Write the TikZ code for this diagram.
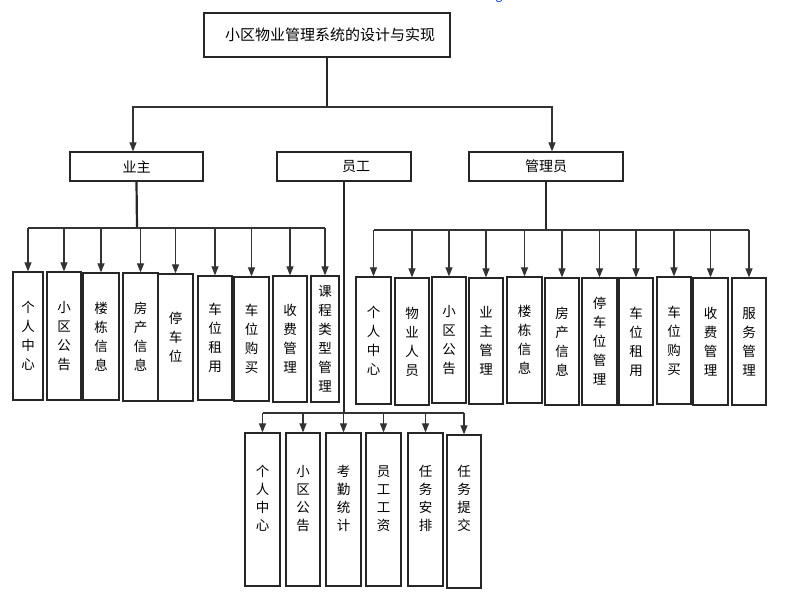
\documentclass[tikz,border=0pt]{standalone}
\usepackage{fontspec}
\setmainfont{Noto Sans CJK SC}
\usetikzlibrary{arrows.meta}
\begin{document}
\begin{tikzpicture}[x=1pt,y=-1pt,
  box/.style={draw=black!85, line width=1.2pt, inner sep=0pt, align=center,
    font=\fontsize{13.5}{19}\selectfont},
  hbox/.style={draw=black!85, line width=1.2pt, inner sep=0pt, minimum height=29pt,
    font=\fontsize{14}{16}\selectfont},
  vtext/.style={align=center, inner sep=0pt, font=\fontsize{13.5}{18}\selectfont},
  link/.style={draw=black!80, line width=1.1pt},
  arr/.style={link, -{Triangle[length=9pt,width=7pt]}},
  stem/.style={draw=black!85, line width=2.2pt}]
\useasboundingbox (0,0) rectangle (785,592);
\node[text=blue!80!cyan, font=\fontsize{12}{12}\selectfont, anchor=base] (g) at (499,-1) {g};
% top
\node[draw=black!85, line width=1.2pt, minimum width=246pt, minimum height=44pt,
      font=\fontsize{15}{17}\selectfont] (top) at (327,35) {\hspace{6pt}小区物业管理系统的设计与实现};
\node[hbox, minimum width=133pt] (yz) at (136.5,166.5) {业主};
\node[hbox, minimum width=134pt] (yg) at (344,166.5) {\hspace{24pt}员工};
\node[hbox, minimum width=154pt] (gl) at (546,166.5) {管理员};
\coordinate (j0) at (327,107);
\draw[stem, line width=1.4pt] (top.south) -- (j0);
\draw[arr] (j0) -| ([xshift=-3.5pt]yz.north);
\draw[arr] (j0) -| ([xshift=6pt]gl.north);
% left group
\node[box, minimum width=30pt, minimum height=128pt] (l1) at (28,336) {个\\人\\中\\心};
\node[box, minimum width=34pt, minimum height=128pt] (l2) at (64,336) {小\\区\\公\\告};
\node[box, minimum width=36pt, minimum height=127pt] (l3) at (101,336.5) {楼\\栋\\信\\息};
\node[box, minimum width=35pt, minimum height=128pt] (l4) at (140.5,337) {房\\产\\信\\息};
\node[box, minimum width=35pt, minimum height=127pt] (l5) at (175.5,337.5) {停\\车\\位};
\node[box, minimum width=34pt, minimum height=124pt] (l6) at (215,338) {车\\位\\租\\用};
\node[box, minimum width=35pt, minimum height=124pt] (l7) at (251.5,339) {车\\位\\购\\买};
\node[box, minimum width=34pt, minimum height=126pt] (l8) at (290,339) {收\\费\\管\\理};
\node[box, minimum width=28pt, minimum height=126pt] (l9) at (325,339) {课\\程\\类\\型\\管\\理};
\coordinate (bl) at (137,228);
\draw[stem] (yz.south) -- (bl);
\draw[link, line width=1.7pt] (l1.north |- bl) -- (l9.north |- bl);
\foreach \n in {l1,l2,l3,l4,l5,l6,l7,l8,l9}
  \draw[arr] (\n.north |- bl) -- (\n.north);
% right group
\node[box, minimum width=35pt, minimum height=127pt] (r1) at (373.5,340.5) {个\\人\\中\\心};
\node[box, minimum width=34pt, minimum height=127pt] (r2) at (412,341.5) {物\\业\\人\\员};
\node[box, minimum width=34pt, minimum height=126pt] (r3) at (449,340) {小\\区\\公\\告};
\node[box, minimum width=34pt, minimum height=126pt] (r4) at (486,341) {业\\主\\管\\理};
\node[box, minimum width=35pt, minimum height=126pt] (r5) at (524.5,340) {楼\\栋\\信\\息};
\node[box, minimum width=34pt, minimum height=127pt] (r6) at (562,341.5) {\\[-8pt]房\\产\\信\\息};
\node[box, minimum width=35pt, minimum height=127pt] (r7) at (599.5,341.5) {停\\车\\位\\管\\理};
\node[box, minimum width=34pt, minimum height=127pt] (r8) at (636,341.5) {车\\位\\租\\用};
\node[box, minimum width=34pt, minimum height=127pt] (r9) at (674,340.5) {车\\位\\购\\买};
\node[box, minimum width=35pt, minimum height=127pt] (r10) at (710.5,341.5) {收\\费\\管\\理};
\node[box, minimum width=34pt, minimum height=127pt] (r11) at (749,341.5) {服\\务\\管\\理};
\coordinate (br) at (546,230);
\draw[stem] (gl.south) -- (br);
\draw[link, line width=1.4pt] (r1.north |- br) -- (r11.north |- br);
\foreach \n in {r1,r2,r3,r4,r5,r6,r7,r8,r9,r10,r11}
  \draw[arr] (\n.north |- br) -- (\n.north);
% employee group
\foreach \n/\x/\w/\y in {e1/262.5/35/509.5, e2/303/34/509.5, e3/343.5/35/509.5,
    e4/383.5/35/509.5, e5/425.5/35/509.5, e6/464/34/511.5}
  \node[box, minimum width=\w pt, minimum height=153pt] (\n) at (\x,\y) {};
\node[vtext] (e1t) at ([yshift=11pt]e1.center) {个\\人\\中\\心};
\node[vtext] (e2t) at ([yshift=11pt]e2.center) {小\\区\\公\\告};
\node[vtext] (e3t) at ([yshift=11pt]e3.center) {考\\勤\\统\\计};
\node[vtext] (e4t) at ([yshift=11pt]e4.center) {员\\工\\工\\资};
\node[vtext] (e5t) at ([yshift=11pt]e5.center) {任\\务\\安\\排};
\node[vtext] (e6t) at ([yshift=13pt]e6.center) {任\\务\\提\\交};
\coordinate (be) at (344,413);
\draw[stem] (yg.south) -- (be);
\draw[link, line width=1.4pt] (e1.north |- be) -- (e6.north |- be);
\foreach \n in {e1,e2,e3,e4,e5,e6}
  \draw[arr] (\n.north |- be) -- (\n.north);
\end{tikzpicture}
\end{document}
